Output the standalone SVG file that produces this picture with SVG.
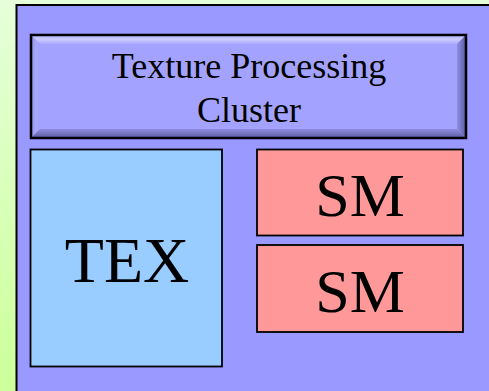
<svg xmlns="http://www.w3.org/2000/svg" width="489" height="391" viewBox="0 0 489 391">
<defs>
<linearGradient id="bg" x1="0" y1="0" x2="0" y2="1">
<stop offset="0" stop-color="#E6FFDA"/>
<stop offset="1" stop-color="#CCFF99"/>
</linearGradient>
<linearGradient id="bvTop" x1="0" y1="0" x2="0" y2="1">
<stop offset="0" stop-color="#B8B8FF"/>
<stop offset="0.5" stop-color="#CACAFF"/>
<stop offset="1" stop-color="#AAAAFF"/>
</linearGradient>
<linearGradient id="bvBot" x1="0" y1="0" x2="0" y2="1">
<stop offset="0" stop-color="#8C8CE0"/>
<stop offset="1" stop-color="#5C5CA0"/>
</linearGradient>
<linearGradient id="bvLeft" x1="0" y1="0" x2="1" y2="0">
<stop offset="0" stop-color="#8A8AE0"/>
<stop offset="0.5" stop-color="#A6A6FA"/>
<stop offset="1" stop-color="#A2A2FF"/>
</linearGradient>
<linearGradient id="bvRight" x1="0" y1="0" x2="1" y2="0">
<stop offset="0" stop-color="#9090E6"/>
<stop offset="1" stop-color="#5A5AA0"/>
</linearGradient>
</defs>
<style>
.lbl{fill:#000;text-anchor:middle}
.box{stroke:#000;stroke-width:1.8}
</style>
<rect x="0" y="0" width="489" height="391" fill="url(#bg)"/>
<g id="outer">
<rect x="16.5" y="5" width="480" height="400" fill="#9999FF" stroke="#000" stroke-width="2"/>
</g>
<g id="title">
<rect x="31" y="35" width="435" height="103" fill="#A3A3FF"/>
<polygon points="31,35 466,35 457,44 40,44" fill="url(#bvTop)"/>
<polygon points="31,35 40,44 40,129 31,138" fill="url(#bvLeft)"/>
<polygon points="466,35 466,138 457,129 457,44" fill="url(#bvRight)"/>
<polygon points="31,138 40,129 457,129 466,138" fill="url(#bvBot)"/>
<rect x="31" y="35" width="435" height="103" fill="none" stroke="#000" stroke-width="2.5"/>
<text class="lbl" x="249" y="78" font-size="36" font-family="Liberation Serif">Texture Processing</text>
<text class="lbl" x="249" y="122" font-size="36" font-family="Liberation Serif">Cluster</text>
</g>
<g id="tex">
<rect class="box" x="30.5" y="149.5" width="191.5" height="217" fill="#99CCFF"/>
<text class="lbl" x="127" y="282" font-size="64" font-family="Liberation Serif">TEX</text>
</g>
<g id="sm1">
<rect class="box" x="257" y="149.5" width="206" height="86" fill="#FF9999"/>
<text class="lbl" x="360" y="216" font-size="62" font-family="Liberation Serif">SM</text>
</g>
<g id="sm2">
<rect class="box" x="257" y="245" width="206" height="87" fill="#FF9999"/>
<text class="lbl" x="360" y="311.5" font-size="62" font-family="Liberation Serif">SM</text>
</g>
<g id="connectors"/>
</svg>
